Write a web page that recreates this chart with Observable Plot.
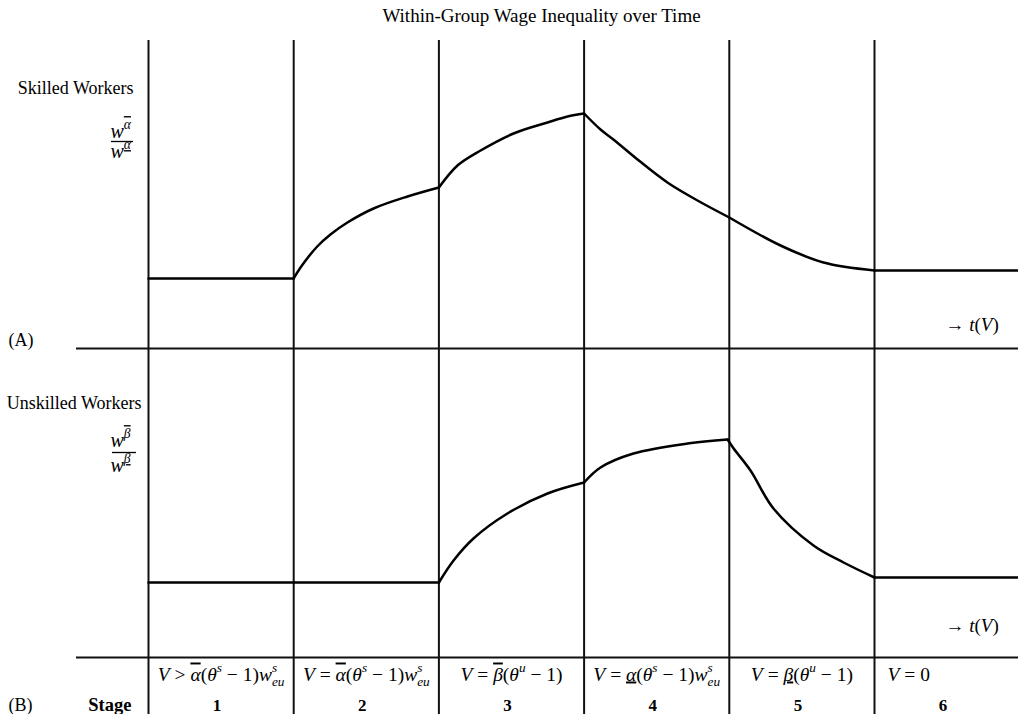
<!DOCTYPE html>
<html><head><meta charset="utf-8">
<script src="https://cdn.jsdelivr.net/npm/d3@7"></script>
<script src="https://cdn.jsdelivr.net/npm/@observablehq/plot@0.6"></script>
<style>body{margin:0;background:#fff;} svg{display:block}</style>
</head><body><div id="chart"></div>
<script>
// ---------- data ----------
const title = "Within-Group Wage Inequality over Time";
const stages = [1, 2, 3, 4, 5, 6];
const stageConditions = [
  "V > α̅(θ^{s} − 1)w^{s}_{eu}",
  "V = α̅(θ^{s} − 1)w^{s}_{eu}",
  "V = β̅(θ^{u} − 1)",
  "V = α̲(θ^{s} − 1)w^{s}_{eu}",
  "V = β̲(θ^{u} − 1)",
  "V = 0"
];
const stageBoundaries = [0, 1, 2, 3, 4, 5];

// time in stage units (stage k spans [k-1, k]); ratio in arbitrary units (1 = starting level)
const skilledTime  = [0, 1,  1, 1.047, 1.162, 1.253, 1.370, 1.550, 1.784, 2,  2, 2.128, 2.287, 2.514, 2.748, 2.886, 3,
                      3, 3.113, 3.202, 3.368, 3.574, 3.781, 4,  4, 4.353, 4.649, 5,  5, 5.99];
const skilledRatio = [1.00, 1.00,  1.00, 1.11, 1.32, 1.44, 1.56, 1.70, 1.82, 1.91,  1.91, 2.13, 2.28, 2.45, 2.56, 2.62, 2.65,
                      2.65, 2.49, 2.39, 2.19, 1.96, 1.78, 1.61,  1.61, 1.33, 1.16, 1.08,  1.08, 1.08];
const skilledStage = [1, 1,  2, 2, 2, 2, 2, 2, 2, 2,  3, 3, 3, 3, 3, 3, 3,
                      4, 4, 4, 4, 4, 4, 4,  5, 5, 5, 5,  6, 6];

const unskilledTime  = [0, 2,  2, 2.101, 2.238, 2.472, 2.748, 3,  3, 3.113, 3.340, 3.712, 3.988,
                        3.988, 4.03, 4.146, 4.304, 4.580, 4.787, 5,  5, 5.99];
const unskilledRatio = [1.00, 1.00,  1.00, 1.22, 1.44, 1.69, 1.89, 2.00,  2.00, 2.15, 2.29, 2.39, 2.43,
                        2.43, 2.34, 2.12, 1.74, 1.37, 1.20, 1.05,  1.05, 1.05];
const unskilledStage = [1, 1,  3, 3, 3, 3, 3, 3,  4, 4, 4, 4, 4,
                        5, 5, 5, 5, 5, 5, 5,  6, 6];

const panelLabels = ["Skilled Workers", "Unskilled Workers"];
const ratioLabels = ["w^{α̅}", "w^{α̲}", "w^{β̅}", "w^{β̲}"];
const panelTags = ["(A)", "(B)"];
const axisLabel = "→ t(V)";

// ---------- layout helpers ----------
const X0 = 148, STAGE_W = 145.2;          // pixel position of t=0, width of a stage
const px2t = px => (px - X0) / STAGE_W;
const py2v = py => 6.82 - py / 100;        // y scale: 100 px per unit
const offsetA = 3.04, offsetB = 0;         // vertical offset of each panel
const RICH = "\u00a7";                     // marks texts to be typeset as math
const rich = s => RICH + s;

const skilled = skilledTime.map((t, i) => ({t, ratio: skilledRatio[i], stage: skilledStage[i]}));
const unskilled = unskilledTime.map((t, i) => ({t, ratio: unskilledRatio[i], stage: unskilledStage[i]}));

const FONT = "'Liberation Serif', 'Times New Roman', serif";

const plot = Plot.plot({
  width: 1018, height: 714, margin: 0,
  x: {domain: [px2t(0), px2t(1018)], axis: null},
  y: {domain: [py2v(714), py2v(0)], axis: null},
  style: {fontFamily: FONT, background: "white", color: "black"},
  marks: [
    Plot.ruleX(stageBoundaries, {x: d => d, y1: py2v(40), y2: py2v(714), stroke: "#111", strokeWidth: 2}),
    Plot.ruleY([py2v(348), py2v(657)], {y: d => d, x1: px2t(76), x2: px2t(1018), stroke: "#111", strokeWidth: 2}),
    Plot.line(skilled, {x: "t", y: d => d.ratio + offsetA, z: "stage", curve: "catmull-rom", stroke: "#000", strokeWidth: 2.5}),
    Plot.line(unskilled, {x: "t", y: d => d.ratio + offsetB, z: "stage", curve: "catmull-rom", stroke: "#000", strokeWidth: 2.5}),
    // title
    Plot.text([title], {x: px2t(541), y: py2v(21), text: d => d, fontSize: 19, lineAnchor: "bottom", textAnchor: "middle"}),
    // panel labels
    Plot.text(panelLabels, {x: [px2t(133), px2t(141)], y: [py2v(93), py2v(408)], text: d => d, fontSize: 18, lineAnchor: "bottom", textAnchor: "end"}),
    Plot.text(panelTags, {x: px2t(8), y: [py2v(345), py2v(710)], text: d => d, fontSize: 18, lineAnchor: "bottom", textAnchor: "start"}),
    // ratio fractions
    Plot.text(ratioLabels, {x: px2t(110), y: [py2v(137), py2v(157), py2v(446), py2v(471)], text: rich, fontSize: 20, lineAnchor: "bottom", textAnchor: "start"}),
    Plot.ruleY([py2v(141), py2v(452)], {y: d => d, x1: [px2t(111), px2t(112)], x2: [px2t(133), px2t(136)], stroke: "#000", strokeWidth: 1.3}),
    // axis arrows
    Plot.text([axisLabel, axisLabel], {x: px2t(945), y: [py2v(330), py2v(631)], text: rich, fontSize: 19, lineAnchor: "bottom", textAnchor: "start"}),
    // stage table
    Plot.text(stages.slice(0, 5), {x: d => d - 0.5, y: py2v(680), text: d => rich(stageConditions[d - 1]), fontSize: 19.5, lineAnchor: "bottom", textAnchor: "middle"}),
    Plot.text(stages.slice(5), {x: d => d - 1, y: py2v(680), dx: 13, text: d => rich(stageConditions[d - 1]), fontSize: 19.5, lineAnchor: "bottom", textAnchor: "start"}),
    Plot.text(stages, {x: d => d - 0.5, y: py2v(710), dx: -4, text: d => String(d), fontSize: 17, fontWeight: "bold", lineAnchor: "bottom", textAnchor: "middle"}),
    Plot.text(["Stage"], {x: px2t(131), y: py2v(710), text: d => d, fontSize: 18.5, fontWeight: "bold", lineAnchor: "bottom", textAnchor: "end"})
  ]
});
document.getElementById("chart").appendChild(plot);

// ---------- rich text: italic math letters, over/underlines, superscripts, subscripts ----------
function parseRich(s) {
  const runs = [];
  const push = (ch, level) => {
    const last = runs[runs.length - 1];
    if ((ch === "\u0305" || ch === "\u0332") && last && last.text) {
      const chars = [...last.text];
      const base = chars.pop();
      last.text = chars.join("");
      runs.push({text: base, level, italic: last.italic, deco: ch === "\u0305" ? "overline" : "underline", closed: true});
      return;
    }
    const italic = /[A-Za-z\u0370-\u03ff]/.test(ch);
    if (last && !last.closed && last.level === level && last.italic === italic) last.text += ch;
    else runs.push({text: ch, level, italic});
  };
  let i = 0;
  while (i < s.length) {
    const c = s[i];
    if ((c === "^" || c === "_") && s[i + 1] === "{") {
      const j = s.indexOf("}", i);
      const level = c === "^" ? 1 : -1;
      runs.push({text: "", level, italic: null, closed: true});
      for (const ch of s.slice(i + 2, j)) push(ch, level);
      i = j + 1;
    } else { push(c, 0); i++; }
  }
  return runs.filter(r => r.text);
}
d3.select(plot).selectAll("text").each(function () {
  const el = this;
  const src = el.textContent;
  if (!src.startsWith(RICH)) return;
  const fs = parseFloat(getComputedStyle(el).fontSize);
  el.textContent = "";
  let cur = 0, prevLevel = 0, groupStart = null;
  const parts = parseRich(src.slice(1));
  let supWidth = 0, lastSupEnd = false;
  for (let k = 0; k < parts.length; k++) {
    const r = parts[k];
    const target = r.level === 1 ? -0.42 * fs : r.level === -1 ? 0.26 * fs : 0;
    const ts = d3.select(el).append("tspan").text(r.text)
      .attr("font-style", r.italic ? "italic" : "normal")
      .attr("font-size", r.level ? 0.68 * fs : fs);
    if (r.deco) ts.attr("text-decoration", r.deco);
    if (target !== cur) ts.attr("dy", target - cur);
    if (r.level === -1 && prevLevel === 1) ts.attr("dx", -supWidth);
    if (r.level === 1) supWidth = (prevLevel === 1 ? supWidth : 0) + ts.node().getComputedTextLength();
    cur = target; prevLevel = r.level;
  }
});
</script>
</body></html>
